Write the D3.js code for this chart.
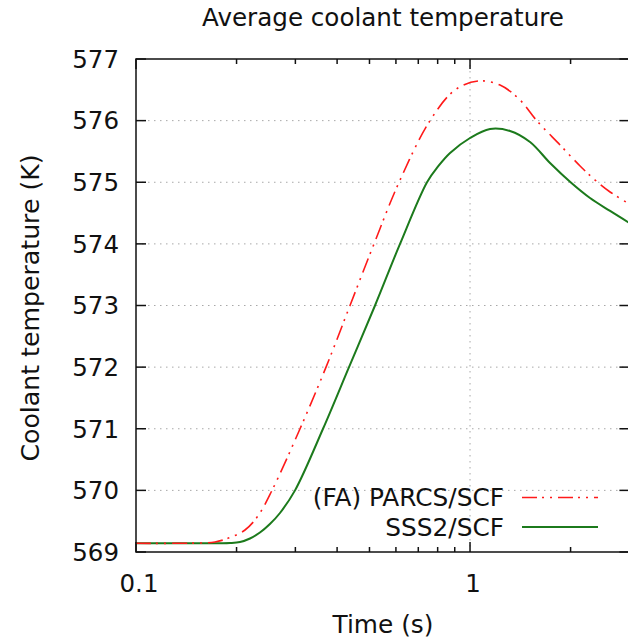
<!DOCTYPE html>
<html>
<head>
<meta charset="utf-8">
<script src="https://cdn.jsdelivr.net/npm/d3@7"></script>
<style>
	body { margin: 0; background: #fff; }
	text { font-family: "DejaVu Sans", sans-serif; fill: #111; }
</style>
</head>
<body>
<div id="graphic"></div>
<script>
// values (time in s, temperature in K)
var parcsTime = [0.1, 0.1555, 0.1724, 0.1912, 0.212, 0.2318, 0.2554, 0.3098, 0.3706, 0.4372, 0.5159, 0.613, 0.7589, 0.9018, 1.0567, 1.2297, 1.4115, 1.5873, 1.8598, 2.1353, 2.3672, 2.626, 3.0]
var parcsTemp = [569.141, 569.146, 569.162, 569.235, 569.357, 569.584, 570.0, 571.0, 572.0, 573.0, 574.0, 575.0, 576.0, 576.497, 576.643, 576.578, 576.335, 575.994, 575.605, 575.264, 575.036, 574.842, 574.647]

var sssTime = [0.1, 0.1555, 0.1912, 0.2048, 0.2194, 0.235, 0.2517, 0.2698, 0.2993, 0.363, 0.4342, 0.5195, 0.6172, 0.7434, 0.8022, 0.8713, 1.0, 1.1477, 1.3176, 1.5124, 1.736, 2.0, 2.287, 2.626, 3.0]
var sssTemp = [569.141, 569.141, 569.146, 569.162, 569.219, 569.316, 569.454, 569.633, 570.0, 571.0, 572.0, 573.0, 574.0, 575.0, 575.256, 575.475, 575.718, 575.864, 575.832, 575.653, 575.312, 575.0, 574.744, 574.534, 574.339]

var yTicks = [569, 570, 571, 572, 573, 574, 575, 576, 577]
var xMajor = [0.1, 1]
var xMinor = [0.2, 0.3, 0.4, 0.5, 0.6, 0.7, 0.8, 0.9, 2, 3]
var seriesNames = ["(FA) PARCS/SCF", "SSS2/SCF"]

var width = 628, height = 638
var margins = {left: 136, right: 629.4, top: 59, bottom: 552}
var x0 = margins.left, x1 = margins.right, y0 = margins.top, y1 = margins.bottom

var x = d3.scaleLog().domain([0.1, 3]).range([x0, x1])
var y = d3.scaleLinear().domain([569, 577]).range([y1, y0])

var svg = d3.select("#graphic").append("svg")
	.attr("width", width)
	.attr("height", height)

// grid
svg.selectAll(".hgrid")
	.data(yTicks.slice(1, -1))
	.enter().append("line")
	.attr("x1", x0).attr("x2", x1)
	.attr("y1", function(d){ return y(d) }).attr("y2", function(d){ return y(d) })
	.attr("stroke", "#a8a8a8").attr("stroke-width", 1).attr("stroke-dasharray", "1.5,4.5")

svg.append("line")
	.attr("x1", x(1)).attr("x2", x(1))
	.attr("y1", y0).attr("y2", y1)
	.attr("stroke", "#a8a8a8").attr("stroke-width", 1).attr("stroke-dasharray", "1.5,4.5")

// ticks (mirrored on all four sides)
var ticks = svg.append("g").attr("stroke", "#111").attr("stroke-width", 1.5)
yTicks.forEach(function(d){
	ticks.append("line").attr("x1", x0).attr("x2", x0 + 10).attr("y1", y(d)).attr("y2", y(d))
	ticks.append("line").attr("x1", x1).attr("x2", x1 - 10).attr("y1", y(d)).attr("y2", y(d))
})
xMajor.forEach(function(d){
	ticks.append("line").attr("x1", x(d)).attr("x2", x(d)).attr("y1", y1).attr("y2", y1 - 10)
	ticks.append("line").attr("x1", x(d)).attr("x2", x(d)).attr("y1", y0).attr("y2", y0 + 10)
})
xMinor.forEach(function(d){
	ticks.append("line").attr("x1", x(d)).attr("x2", x(d)).attr("y1", y1).attr("y2", y1 - 5)
	ticks.append("line").attr("x1", x(d)).attr("x2", x(d)).attr("y1", y0).attr("y2", y0 + 5)
})

// tick labels
svg.selectAll(".ylab")
	.data(yTicks)
	.enter().append("text")
	.attr("x", 119)
	.attr("y", function(d){ return y(d) })
	.attr("dy", "0.36em")
	.attr("text-anchor", "end")
	.style("font-size", "24.5px")
	.text(function(d){ return d })

svg.selectAll(".xlab")
	.data(xMajor)
	.enter().append("text")
	.attr("x", function(d){ return x(d) + 3 })
	.attr("y", 592)
	.attr("text-anchor", "middle")
	.style("font-size", "24.5px")
	.text(function(d){ return d })

// titles
svg.append("text")
	.attr("x", 383).attr("y", 26)
	.attr("text-anchor", "middle")
	.style("font-size", "24.6px")
	.text("Average coolant temperature")

svg.append("text")
	.attr("x", 383).attr("y", 633)
	.attr("text-anchor", "middle")
	.style("font-size", "24.8px")
	.text("Time (s)")

svg.append("text")
	.attr("transform", "translate(39,308) rotate(-90)")
	.attr("text-anchor", "middle")
	.style("font-size", "25.2px")
	.text("Coolant temperature (K)")

// curves
var clip = svg.append("clipPath").attr("id", "plotclip")
clip.append("rect").attr("x", x0).attr("y", y0).attr("width", x1 - x0).attr("height", y1 - y0)

var line = d3.line()
	.x(function(d){ return x(d[0]) })
	.y(function(d){ return y(d[1]) })
	.curve(d3.curveCatmullRom.alpha(0.5))

var parcs = parcsTime.map(function(t, i){ return [t, parcsTemp[i]] })
var sss = sssTime.map(function(t, i){ return [t, sssTemp[i]] })

var redDash = "15,5,2,6,2,6"
var green = "#1c7a1c"

svg.append("path")
	.datum(sss)
	.attr("clip-path", "url(#plotclip)")
	.attr("d", line)
	.attr("fill", "none")
	.attr("stroke", green)
	.attr("stroke-width", 2)

svg.append("path")
	.datum(parcs)
	.attr("clip-path", "url(#plotclip)")
	.attr("d", line)
	.attr("fill", "none")
	.attr("stroke", "#ff1a1a")
	.attr("stroke-width", 1.6)
	.attr("stroke-dasharray", redDash)

// frame
svg.append("rect")
	.attr("x", x0).attr("y", y0)
	.attr("width", x1 - x0).attr("height", y1 - y0)
	.attr("fill", "none").attr("stroke", "#111").attr("stroke-width", 1.5)

// legend
var legendY = [497.5, 527]
var legendStyle = [{color: "#ff1a1a", dash: redDash, w: 1.6}, {color: green, dash: null, w: 2}]
seriesNames.forEach(function(name, i){
	svg.append("text")
		.attr("x", 504).attr("y", legendY[i])
		.attr("dy", "0.36em")
		.attr("text-anchor", "end")
		.style("font-size", "24.8px")
		.text(name)
	svg.append("line")
		.attr("x1", 522).attr("x2", 598)
		.attr("y1", legendY[i]).attr("y2", legendY[i])
		.attr("stroke", legendStyle[i].color)
		.attr("stroke-width", legendStyle[i].w)
		.attr("stroke-dasharray", legendStyle[i].dash)
})
</script>
</body>
</html>
